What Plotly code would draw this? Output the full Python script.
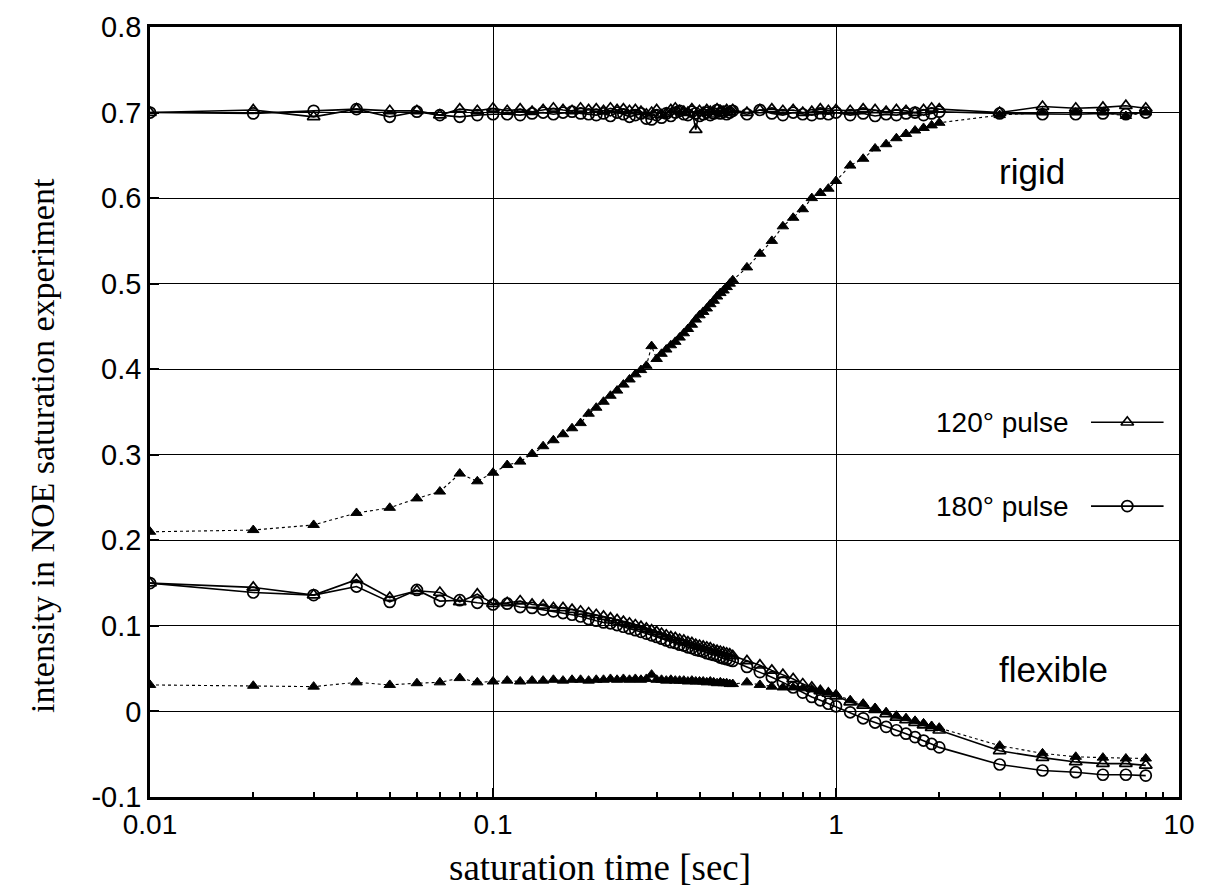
import plotly.graph_objects as go

# ---------------- data ----------------
sat_time = [0.01, 0.02, 0.03, 0.04, 0.05, 0.06, 0.07, 0.08, 0.09,
            0.10, 0.11, 0.12, 0.13, 0.14, 0.15, 0.16, 0.17, 0.18, 0.19,
            0.20, 0.21, 0.22, 0.23, 0.24, 0.25, 0.26, 0.27, 0.28, 0.29,
            0.30, 0.31, 0.32, 0.33, 0.34, 0.35, 0.36, 0.37, 0.38, 0.39,
            0.40, 0.41, 0.42, 0.43, 0.44, 0.45, 0.46, 0.47, 0.48, 0.49, 0.50,
            0.55, 0.60, 0.65, 0.70, 0.75, 0.80, 0.85, 0.90, 0.95, 1.00,
            1.1, 1.2, 1.3, 1.4, 1.5, 1.6, 1.7, 1.8, 1.9, 2.0,
            3, 4, 5, 6, 7, 8]

rigid_120 = [0.700, 0.703, 0.695, 0.704, 0.702, 0.702, 0.697, 0.704, 0.702,
             0.705, 0.702, 0.704, 0.701, 0.703, 0.705, 0.703, 0.702, 0.705, 0.703,
             0.704, 0.702, 0.705, 0.703, 0.704, 0.702, 0.703, 0.701, 0.698, 0.700,
             0.703, 0.697, 0.699, 0.703, 0.705, 0.702, 0.701, 0.700, 0.704, 0.680,
             0.702, 0.700, 0.703, 0.701, 0.698, 0.704, 0.702, 0.700, 0.703, 0.701, 0.703,
             0.700, 0.703, 0.704, 0.702, 0.703, 0.700, 0.701, 0.704, 0.702, 0.703,
             0.702, 0.704, 0.703, 0.701, 0.703, 0.702, 0.700, 0.703, 0.705, 0.704,
             0.700, 0.707, 0.705, 0.706, 0.708, 0.705]

rigid_180 = [0.700, 0.699, 0.702, 0.704, 0.695, 0.701, 0.697, 0.695, 0.697,
             0.698, 0.698, 0.697, 0.699, 0.700, 0.698, 0.700, 0.701, 0.699, 0.698,
             0.697, 0.699, 0.696, 0.700, 0.698, 0.695, 0.697, 0.699, 0.693, 0.692,
             0.697, 0.694, 0.699, 0.696, 0.700, 0.702, 0.698, 0.697, 0.701, 0.699,
             0.696, 0.698, 0.700, 0.697, 0.699, 0.703, 0.699, 0.701, 0.698, 0.700, 0.702,
             0.698, 0.703, 0.699, 0.697, 0.700, 0.698, 0.697, 0.699, 0.698, 0.700,
             0.697, 0.699, 0.696, 0.698, 0.697, 0.699, 0.700, 0.697, 0.699, 0.701,
             0.699, 0.698, 0.698, 0.699, 0.698, 0.700]

rigid_ref = [0.210, 0.212, 0.218, 0.232, 0.238, 0.249, 0.257, 0.278, 0.269,
             0.279, 0.288, 0.292, 0.301, 0.310, 0.317, 0.324, 0.331, 0.337, 0.348,
             0.355, 0.362, 0.369, 0.375, 0.382, 0.388, 0.394, 0.399, 0.404, 0.427,
             0.412, 0.418, 0.423, 0.428, 0.432, 0.437, 0.442, 0.447, 0.452, 0.458,
             0.463, 0.467, 0.471, 0.476, 0.480, 0.485, 0.489, 0.492, 0.496, 0.500, 0.504,
             0.519, 0.535, 0.550, 0.567, 0.577, 0.587, 0.600, 0.606, 0.611, 0.620,
             0.638, 0.646, 0.658, 0.663, 0.670, 0.675, 0.679, 0.682, 0.685, 0.688,
             0.697, 0.700, 0.700, 0.700, 0.696, 0.700]

flex_120 = [0.150, 0.145, 0.136, 0.154, 0.133, 0.141, 0.139, 0.128, 0.137,
            0.126, 0.127, 0.129, 0.125, 0.124, 0.121, 0.121, 0.119, 0.117, 0.115,
            0.113, 0.111, 0.109, 0.107, 0.105, 0.103, 0.101, 0.099, 0.097, 0.095,
            0.093, 0.091, 0.089, 0.087, 0.086, 0.084, 0.083, 0.081, 0.080, 0.078,
            0.077, 0.076, 0.075, 0.074, 0.072, 0.071, 0.070, 0.069, 0.068, 0.067, 0.065,
            0.059, 0.054, 0.048, 0.043, 0.038, 0.032, 0.028, 0.024, 0.021, 0.018,
            0.011, 0.007, 0.002, -0.003, -0.007, -0.010, -0.013, -0.016, -0.019, -0.022,
            -0.046, -0.054, -0.059, -0.061, -0.061, -0.063]

flex_180 = [0.150, 0.139, 0.136, 0.146, 0.128, 0.142, 0.129, 0.130, 0.127,
            0.125, 0.126, 0.122, 0.121, 0.119, 0.117, 0.115, 0.113, 0.111, 0.108,
            0.106, 0.104, 0.103, 0.101, 0.099, 0.097, 0.095, 0.093, 0.091, 0.089,
            0.087, 0.085, 0.083, 0.081, 0.080, 0.078, 0.077, 0.075, 0.074, 0.072,
            0.071, 0.070, 0.068, 0.067, 0.066, 0.065, 0.063, 0.062, 0.061, 0.060, 0.059,
            0.052, 0.046, 0.040, 0.034, 0.028, 0.022, 0.017, 0.013, 0.009, 0.006,
            -0.001, -0.008, -0.013, -0.018, -0.022, -0.026, -0.030, -0.034, -0.038, -0.042,
            -0.062, -0.069, -0.071, -0.074, -0.074, -0.075]

flex_ref = [0.031, 0.030, 0.029, 0.034, 0.031, 0.033, 0.034, 0.039, 0.034,
            0.035, 0.036, 0.035, 0.036, 0.036, 0.037, 0.036, 0.037, 0.037, 0.036,
            0.037, 0.037, 0.038, 0.037, 0.038, 0.037, 0.038, 0.037, 0.038, 0.043,
            0.037, 0.037, 0.036, 0.037, 0.036, 0.036, 0.036, 0.035, 0.036, 0.035,
            0.035, 0.035, 0.034, 0.035, 0.034, 0.033, 0.034, 0.033, 0.033, 0.032, 0.032,
            0.034, 0.031, 0.029, 0.028, 0.028, 0.027, 0.026, 0.024, 0.022, 0.020,
            0.013, 0.009, 0.004, -0.001, -0.005, -0.008, -0.011, -0.014, -0.017, -0.019,
            -0.040, -0.049, -0.053, -0.054, -0.055, -0.055]

x_tick_vals = [0.01, 0.1, 1, 10]
x_tick_text = ["0.01", "0.1", "1", "10"]
y_tick_vals = [-0.1, 0, 0.1, 0.2, 0.3, 0.4, 0.5, 0.6, 0.7, 0.8]
y_tick_text = ["-0.1", "0", "0.1", "0.2", "0.3", "0.4", "0.5", "0.6", "0.7", "0.8"]

legend_labels = ["120° pulse", "180° pulse"]
legend_y = [0.338, 0.240]          # key rows, in data units of the y axis

# ---------------- styling ----------------
SANS = "Liberation Sans, Arial, sans-serif"
SERIF = "Liberation Serif, Times New Roman, serif"
TRI_OPEN = dict(symbol="triangle-up-open", size=11, color="black", line=dict(width=1.7, color="black"))
TRI_FILL = dict(symbol="triangle-up", size=10, color="black", line=dict(width=1, color="black"))
CIRC_OPEN = dict(symbol="circle-open", size=11, color="black", line=dict(width=1.7, color="black"))
SOLID = dict(color="black", width=1.6)
DOTTED = dict(color="black", width=1.1, dash="dot")

fig = go.Figure()

series = [
    (rigid_ref, TRI_FILL, DOTTED),
    (flex_ref, TRI_FILL, DOTTED),
    (rigid_180, CIRC_OPEN, SOLID),
    (flex_180, CIRC_OPEN, SOLID),
    (rigid_120, TRI_OPEN, SOLID),
    (flex_120, TRI_OPEN, SOLID),
]
for yv, mk, ln in series:
    fig.add_trace(go.Scatter(x=sat_time, y=yv, mode="lines+markers",
                             marker=mk, line=ln, showlegend=False,
                             hoverinfo="skip"))

# key samples (gnuplot style: text on the left, sample on the right)
KEY_X0, KEY_X1 = 0.9145, 0.985
for lab, ky, mk in zip(legend_labels, legend_y, [TRI_OPEN, CIRC_OPEN]):
    fig.add_trace(go.Scatter(x=[KEY_X0, KEY_X1], y=[ky, ky],
                             mode="lines", line=SOLID, xaxis="x2", yaxis="y",
                             showlegend=False, hoverinfo="skip"))
    fig.add_trace(go.Scatter(x=[(KEY_X0 + KEY_X1) / 2], y=[ky], mode="markers",
                             marker=mk, xaxis="x2", yaxis="y",
                             showlegend=False, hoverinfo="skip"))
    fig.add_annotation(x=KEY_X0 - 0.019, y=ky, xref="x2", yref="y", text=lab,
                       showarrow=False, xanchor="right", yanchor="middle",
                       font=dict(family=SANS, size=28, color="black"))

fig.add_annotation(x=0.468, y=0.631, xref="x", yref="y", text="rigid", showarrow=False,
                   xanchor="left", yanchor="middle",
                   font=dict(family=SANS, size=35, color="black"))
fig.add_annotation(x=0.468, y=0.049, xref="x", yref="y", text="flexible", showarrow=False,
                   xanchor="left", yanchor="middle",
                   font=dict(family=SANS, size=35, color="black"))

# axis titles
fig.add_annotation(x=0.437, y=-0.091, xref="paper", yref="paper",
                   text="saturation time [sec]", showarrow=False,
                   xanchor="center", yanchor="middle",
                   font=dict(family=SERIF, size=37, color="black"))
fig.add_annotation(x=-0.105, y=0.457, xref="paper", yref="paper",
                   text="intensity in NOE saturation experiment", showarrow=False,
                   textangle=-90, xanchor="center", yanchor="middle",
                   font=dict(family=SERIF, size=34, color="black"))

fig.update_layout(
    width=1219, height=887,
    margin=dict(l=142, r=48, t=19, b=98, autoexpand=False),
    paper_bgcolor="white", plot_bgcolor="white",
    showlegend=False,
    xaxis=dict(type="log", range=[-2, 1], tickvals=x_tick_vals, ticktext=x_tick_text,
               showgrid=True, gridcolor="black", gridwidth=1,
               showline=True, linecolor="black", linewidth=2.5, mirror=True,
               ticks="inside", ticklen=9, tickcolor="black", tickwidth=1.5,
               minor=dict(tickvals=[v * m for v in [0.01, 0.1, 1] for m in range(2, 10)],
                          ticks="inside", ticklen=5, tickcolor="black", showgrid=False),
               tickfont=dict(family=SANS, size=28, color="black"),
               ticklabelstandoff=1, ticklabeloverflow="allow", automargin=False,
               zeroline=False),
    xaxis2=dict(range=[0, 1], overlaying="x", visible=False, domain=[0, 1]),
    yaxis=dict(range=[-0.1, 0.8], tickvals=y_tick_vals, ticktext=y_tick_text,
               showgrid=True, gridcolor="black", gridwidth=1,
               showline=True, linecolor="black", linewidth=2.5, mirror=True,
               ticks="inside", ticklen=9, tickcolor="black", tickwidth=1.5,
               tickfont=dict(family=SANS, size=29, color="black"),
               ticklabeloverflow="allow", automargin=False,
               zeroline=False),
)

fig.write_html("out.html")
